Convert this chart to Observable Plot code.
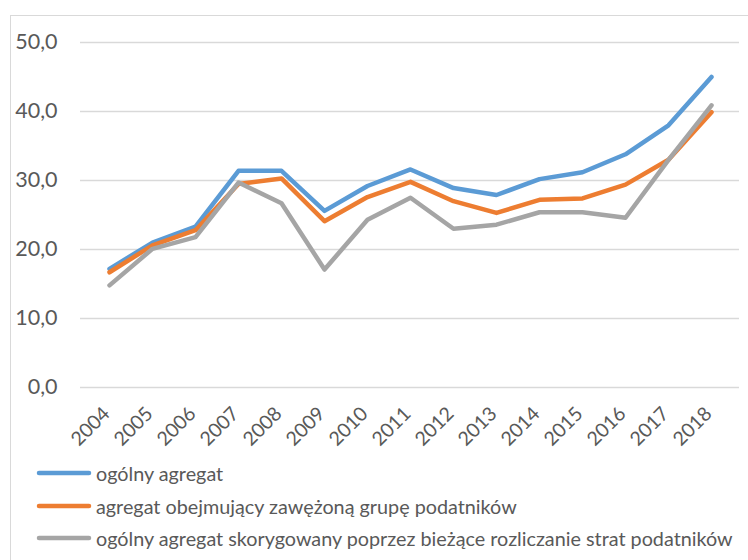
<!DOCTYPE html>
<html>
<head>
<meta charset="utf-8">
<script src="https://cdn.jsdelivr.net/npm/d3@7"></script>
<script src="https://cdn.jsdelivr.net/npm/@observablehq/plot@0.6"></script>
<style>
  html, body { margin: 0; padding: 0; background: #fff; overflow: hidden; }
  #wrap { position: relative; width: 748px; height: 560px; font-family: Lato, "Open Sans", sans-serif; }
  #frame { position: absolute; left: 10px; top: 15px; width: 800px; height: 600px; border: 1.5px solid #d9d9d9; box-sizing: border-box; }
  #chart { position: absolute; left: 0; top: 0; }
  #legend { position: absolute; left: 36px; top: 0; }
  .item { position: absolute; left: 0; display: flex; align-items: center; white-space: nowrap; color: #595959; font-size: 19.8px; }
  .item svg { margin-right: 4px; }
</style>
</head>
<body>
<div id="wrap">
  <div id="frame"></div>
  <div id="chart"></div>
  <div id="legend"></div>
</div>
<script>
const years = ["2004","2005","2006","2007","2008","2009","2010","2011","2012","2013","2014","2015","2016","2017","2018"];
const seriesNames = [
  "ogólny agregat",
  "agregat obejmujący zawężoną grupę podatników",
  "ogólny agregat skorygowany poprzez bieżące rozliczanie strat podatników"
];
const seriesColors = ["#5B9BD5", "#ED7D31", "#A5A5A5"];
const ogolny = [17.2, 21.0, 23.3, 31.4, 31.4, 25.6, 29.2, 31.6, 28.9, 27.9, 30.2, 31.2, 33.8, 38.0, 45.0];
const zawezony = [16.7, 20.6, 22.8, 29.5, 30.3, 24.1, 27.6, 29.8, 27.0, 25.3, 27.2, 27.4, 29.4, 33.0, 39.9];
const skorygowany = [14.8, 20.1, 21.8, 29.7, 26.7, 17.1, 24.3, 27.5, 23.0, 23.6, 25.4, 25.4, 24.6, 33.0, 40.9];
const yTicks = [0, 10, 20, 30, 40, 50];

const seriesValues = [ogolny, zawezony, skorygowany];
const rows = [];
seriesNames.forEach((s, i) => years.forEach((y, j) => rows.push({year: y, value: seriesValues[i][j], series: s})));

const fmt = v => d3.format(".1f")(v).replace(".", ",");

const plot = Plot.plot({
  width: 748,
  height: 460,
  marginLeft: 80,
  marginRight: 9,
  marginTop: 42,
  marginBottom: 73,
  style: { fontFamily: "Lato, 'Open Sans', sans-serif", background: "transparent", overflow: "visible" },
  x: { type: "point", domain: years, padding: 0.5, label: null },
  y: { domain: [0, 50], label: null },
  color: { domain: seriesNames, range: seriesColors },
  marks: [
    Plot.ruleY(yTicks, { stroke: "#d9d9d9", strokeWidth: 1.3 }),
    Plot.axisY({ ticks: yTicks, tickSize: 0, tickPadding: 23, tickFormat: fmt, fontSize: 21.5, fill: "#595959", label: null }),
    Plot.axisX({ tickSize: 0, tickPadding: 23, tickRotate: -45, fontSize: 19.5, fill: "#595959", label: null, dx: -3 }),
    Plot.line(rows, { x: "year", y: "value", z: "series", stroke: "series", strokeWidth: 4.5, strokeLinejoin: "round", strokeLinecap: "round" })
  ]
});
plot.querySelectorAll("text").forEach(t => t.setAttribute("fill", "#595959"));
document.getElementById("chart").appendChild(plot);

const legend = document.getElementById("legend");
const legendY = [473, 506, 538];
seriesNames.forEach((s, i) => {
  const div = document.createElement("div");
  div.className = "item";
  div.style.top = (legendY[i] - 13) + "px";
  div.style.height = "26px";
  div.innerHTML = `<svg width="56" height="8"><line x1="3" y1="4" x2="53" y2="4" stroke="${seriesColors[i]}" stroke-width="4.5" stroke-linecap="round"/></svg><span>${s}</span>`;
  legend.appendChild(div);
});
</script>
</body>
</html>
